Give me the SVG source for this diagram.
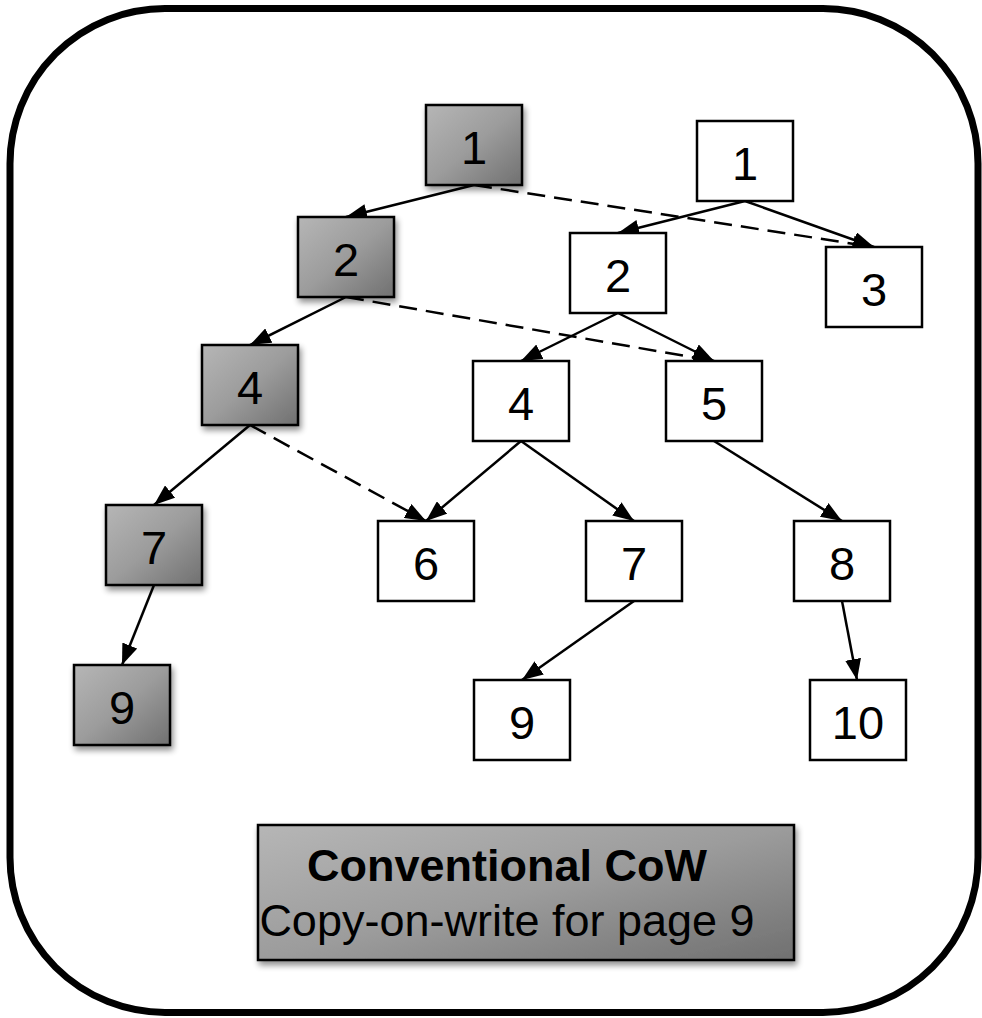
<svg xmlns="http://www.w3.org/2000/svg" width="982" height="1018" viewBox="0 0 982 1018">
  <defs>
    <linearGradient id="grayFill" x1="0" y1="0" x2="1" y2="1">
      <stop offset="0" stop-color="#b6b6b6"/>
      <stop offset="0.5" stop-color="#9c9c9c"/>
      <stop offset="1" stop-color="#707070"/>
    </linearGradient>
    <filter id="shadow" x="-20%" y="-20%" width="150%" height="150%">
      <feGaussianBlur in="SourceAlpha" stdDeviation="3"/>
      <feOffset dx="2" dy="4" result="b"/>
      <feComponentTransfer><feFuncA type="linear" slope="0.45"/></feComponentTransfer>
      <feMerge><feMergeNode/><feMergeNode in="SourceGraphic"/></feMerge>
    </filter>
    <marker id="arrow" markerWidth="21" markerHeight="16" refX="21" refY="8" orient="auto" markerUnits="userSpaceOnUse">
      <path d="M0,0 L21,8 L0,16 Z" fill="#000"/>
    </marker>
  </defs>
  <style>
    .frame { fill: #fff; stroke: #000; stroke-width: 7; }
    .old rect { fill: url(#grayFill); stroke: #000; stroke-width: 2.5; filter: url(#shadow); }
    .new rect { fill: #fff; stroke: #000; stroke-width: 2.5; }
    .node text { font-family: "Liberation Sans", Arial, sans-serif; font-size: 47px; fill: #000; text-anchor: middle; }
    .edge { stroke: #000; stroke-width: 2.5; fill: none; marker-end: url(#arrow); }
    .dashed { stroke-dasharray: 18 9; }
    .legend rect { fill: url(#grayFill); stroke: #000; stroke-width: 2.5; filter: url(#shadow); }
    .legend text { font-family: "Liberation Sans", Arial, sans-serif; font-size: 45px; fill: #000; text-anchor: middle; }
  </style>

  <!-- outer rounded frame -->
  <rect class="frame" x="10" y="8.5" width="968" height="1004" rx="155" ry="155"/>

  <!-- connectors -->
  <g id="connectors">
    <!-- original (shaded) tree -->
    <line class="edge" x1="474" y1="185" x2="346" y2="217"/>
    <line class="edge" x1="346" y1="297" x2="250" y2="345"/>
    <line class="edge" x1="250" y1="425" x2="154" y2="505"/>
    <line class="edge" x1="154" y1="585" x2="122" y2="665"/>
    <!-- shared pages -->
    <line class="edge dashed" x1="474" y1="185" x2="874" y2="247"/>
    <line class="edge dashed" x1="346" y1="297" x2="714" y2="361"/>
    <line class="edge dashed" x1="250" y1="425" x2="426" y2="521"/>
    <!-- copied tree -->
    <line class="edge" x1="745" y1="201" x2="618" y2="233"/>
    <line class="edge" x1="745" y1="201" x2="874" y2="247"/>
    <line class="edge" x1="618" y1="313" x2="521" y2="361"/>
    <line class="edge" x1="618" y1="313" x2="714" y2="361"/>
    <line class="edge" x1="521" y1="441" x2="426" y2="521"/>
    <line class="edge" x1="521" y1="441" x2="634" y2="521"/>
    <line class="edge" x1="714" y1="441" x2="842" y2="521"/>
    <line class="edge" x1="634" y1="601" x2="522" y2="680"/>
    <line class="edge" x1="842" y1="601" x2="857" y2="680"/>
  </g>

  <!-- shaded nodes -->
  <g id="old-1" class="node old"><rect x="426" y="105" width="96" height="80"/><text x="474" y="164">1</text></g>
  <g id="old-2" class="node old"><rect x="298" y="217" width="96" height="80"/><text x="346" y="276">2</text></g>
  <g id="old-4" class="node old"><rect x="202" y="345" width="96" height="80"/><text x="250" y="404">4</text></g>
  <g id="old-7" class="node old"><rect x="106" y="505" width="96" height="80"/><text x="154" y="564">7</text></g>
  <g id="old-9" class="node old"><rect x="74" y="665" width="96" height="80"/><text x="122" y="724">9</text></g>

  <!-- white nodes -->
  <g id="new-1" class="node new"><rect x="697" y="121" width="96" height="80"/><text x="745" y="180">1</text></g>
  <g id="new-2" class="node new"><rect x="570" y="233" width="96" height="80"/><text x="618" y="292">2</text></g>
  <g id="node-3" class="node new"><rect x="826" y="247" width="96" height="80"/><text x="874" y="306">3</text></g>
  <g id="new-4" class="node new"><rect x="473" y="361" width="96" height="80"/><text x="521" y="420">4</text></g>
  <g id="node-5" class="node new"><rect x="666" y="361" width="96" height="80"/><text x="714" y="420">5</text></g>
  <g id="node-6" class="node new"><rect x="378" y="521" width="96" height="80"/><text x="426" y="580">6</text></g>
  <g id="new-7" class="node new"><rect x="586" y="521" width="96" height="80"/><text x="634" y="580">7</text></g>
  <g id="node-8" class="node new"><rect x="794" y="521" width="96" height="80"/><text x="842" y="580">8</text></g>
  <g id="new-9" class="node new"><rect x="474" y="680" width="96" height="80"/><text x="522" y="739">9</text></g>
  <g id="node-10" class="node new"><rect x="810" y="680" width="96" height="80"/><text x="858" y="739">10</text></g>

  <!-- caption -->
  <g id="legend" class="legend">
    <rect x="258" y="825" width="536" height="135"/>
    <text x="507" y="881" font-weight="bold">Conventional CoW</text>
    <text x="507" y="936">Copy-on-write for page 9</text>
  </g>
</svg>
